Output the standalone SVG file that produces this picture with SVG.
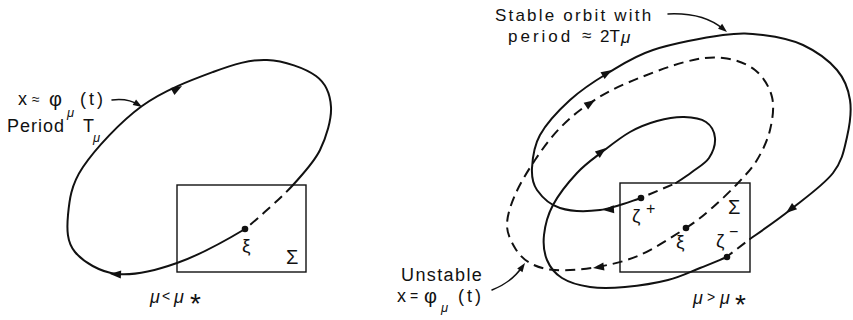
<svg xmlns="http://www.w3.org/2000/svg" xmlns:xlink="http://www.w3.org/1999/xlink" width="853" height="320" viewBox="0 0 853 320">
<style>
.t{font-family:"Liberation Sans",Arial,sans-serif;font-size:18px;fill:#111}
.i{font-style:italic}
.f13{font-size:13px}
.f14{font-size:14px}
.f16{font-size:16px}
.f17{font-size:17px}
.f19{font-size:19px}
.f20{font-size:20px}
.f28{font-size:28px}
.orb{fill:none;stroke:#111;stroke-width:2;stroke-linecap:round;stroke-linejoin:round}
.dash{stroke-dasharray:10 6;stroke-linecap:butt}
.lab{fill:none;stroke:#111;stroke-width:1.5;stroke-linecap:round}
.box{fill:none;stroke:#111;stroke-width:1.4}
.dot{fill:#111}
</style>
<defs>
<path id="ah" d="M0,0 L-11,-4 L-11,4 Z" fill="#111"/>
<path id="ahs" d="M0,0 L-9,-3.2 L-9,3.2 Z" fill="#111"/>
</defs>
<rect width="853" height="320" fill="#fff"/>

<g id="left-section">
  <g id="left-sigma">
    <rect class="box" x="177" y="185" width="129" height="87"/>
    <text class="t f20" x="286" y="264">Σ</text>
  </g>
  <g id="left-xi">
    <circle class="dot" cx="245" cy="229" r="3.3"/>
    <text class="t f19" x="242" y="252">ξ</text>
  </g>
  <g id="left-label">
    <text class="t" x="18" y="105">x</text>
    <text class="t f14" x="32" y="104">≈</text>
    <text class="t f20" x="49" y="106">φ</text>
    <text class="t i f13" x="67" y="117">μ</text>
    <text class="t" x="80" y="105" letter-spacing="3">(t)</text>
    <text class="t" x="7" y="132" letter-spacing="1">Period</text>
    <text class="t" x="83" y="132">T</text>
    <text class="t i f13" x="93" y="142">μ</text>
  </g>
  <g id="left-param">
    <text class="t i" x="150" y="303">μ</text>
    <text class="t f14" x="162" y="301">&lt;</text>
    <text class="t i" x="174" y="303">μ</text>
    <text class="t f28" x="190" y="313">*</text>
  </g>
</g>

<g id="right-section">
  <g id="right-sigma">
    <rect class="box" x="620" y="183" width="130" height="89"/>
    <text class="t f20" x="728" y="214">Σ</text>
  </g>
  <g id="right-zeta-plus">
    <circle class="dot" cx="641" cy="198" r="3.3"/>
    <text class="t f19" x="632" y="222">ζ</text>
    <text class="t f16" x="646" y="214">+</text>
  </g>
  <g id="right-xi">
    <circle class="dot" cx="686" cy="228" r="3.3"/>
    <text class="t f19" x="676" y="248">ξ</text>
  </g>
  <g id="right-zeta-minus">
    <circle class="dot" cx="727" cy="257" r="3.3"/>
    <text class="t f19" x="716" y="247">ζ</text>
    <text class="t f16" x="729" y="237">−</text>
  </g>
  <g id="stable-label">
    <text class="t f17" x="495" y="21" letter-spacing="2.2">Stable orbit with</text>
    <text class="t f17" x="508" y="42" letter-spacing="3">period</text>
    <text class="t f17" x="582" y="41">≈</text>
    <text class="t f17" x="600" y="42">2T</text>
    <text class="t i f17" x="621" y="43">μ</text>
  </g>
  <g id="unstable-label">
    <text class="t" x="401" y="281" letter-spacing="1.4">Unstable</text>
    <text class="t" x="397" y="302">x</text>
    <text class="t f14" x="410" y="301">=</text>
    <text class="t f20" x="424" y="303">φ</text>
    <text class="t i f13" x="441" y="312">μ</text>
    <text class="t" x="458" y="302" letter-spacing="3">(t)</text>
  </g>
  <g id="right-param">
    <text class="t i" x="693" y="304">μ</text>
    <text class="t f14" x="707" y="302">&gt;</text>
    <text class="t i" x="720" y="304">μ</text>
    <text class="t f28" x="735" y="314">*</text>
  </g>
</g>

<g id="connectors">
  <path class="orb" d="M245,229 C229.5,238.3 198.3,255.5 177,263 C155.7,270.5 134,275.8 117,274 C100,272.2 83.2,261.8 75,252 C66.8,242.2 66.7,229.2 68,215 C69.3,200.8 70.7,185.2 83,167 C95.3,148.8 120.3,121.8 142,106 C163.7,90.2 192.2,79.7 213,72 C233.8,64.3 249.8,59.3 267,60 C284.2,60.7 305.3,68.2 316,76 C326.7,83.8 330.3,94.7 331,107 C331.7,119.3 326.3,137 320,150 C313.7,163 301.3,175.5 293,185"/>
  <path class="orb dash" stroke-dasharray="9 5" d="M293,185 C285,194 261,216 245,229"/>
  <use xlink:href="#ah" transform="translate(182,86) rotate(-30)"/>
  <use xlink:href="#ah" transform="translate(110,274) rotate(183)"/>
  <path class="lab" d="M112,100 Q128,98 139,105"/>
  <use xlink:href="#ahs" transform="translate(142,107) rotate(32)"/>

  <path class="orb" d="M641,198 C634.2,200 613.5,208.3 600,210 C586.5,211.7 570.5,211.3 560,208 C549.5,204.7 541.7,196.7 537,190 C532.3,183.3 531.5,177.2 532,168 C532.5,158.8 533.7,146.3 540,135 C546.3,123.7 558.7,110.3 570,100 C581.3,89.7 594.2,81.3 608,73 C621.8,64.7 633.8,56.3 653,50 C672.2,43.7 704.7,37.5 723,35 C741.3,32.5 749.7,33.3 763,35 C776.3,36.7 790.7,39.2 803,45 C815.3,50.8 829.2,60.8 837,70 C844.8,79.2 848.3,88.8 850,100 C851.7,111.2 849.8,124.8 847,137 C844.2,149.2 842.5,160.8 833,173 C823.5,185.2 803.8,199 790,210 C776.2,221 756.7,234.2 750,239"/>
  <path class="orb dash" d="M750,239 L729,255" stroke-dasharray="5 5" stroke-dashoffset="-6"/>
  <path class="orb" d="M727,257 C722.5,258.8 709.8,264.2 700,268 C690.2,271.8 680.5,276.8 668,280 C655.5,283.2 638,285.8 625,287 C612,288.2 600.5,288.5 590,287 C579.5,285.5 569.2,282.5 562,278 C554.8,273.5 550,267.2 547,260 C544,252.8 543,244.2 544,235 C545,225.8 547.5,215.3 553,205 C558.5,194.7 568.8,181.8 577,173 C585.2,164.2 593.2,158.8 602,152 C610.8,145.2 620.8,137.2 630,132 C639.2,126.8 648,123.5 657,121 C666,118.5 675.8,116.8 684,117 C692.2,117.2 700.8,118.5 706,122 C711.2,125.5 714.5,132 715,138 C715.5,144 712.8,152.3 709,158 C705.2,163.7 697.5,167.8 692,172 C686.5,176.2 678.7,181.2 676,183"/>
  <path class="orb dash" d="M676,183 L643,197" stroke-dasharray="10 7" stroke-dashoffset="12"/>
  <use xlink:href="#ah" transform="translate(603,210) rotate(176)"/>
  <use xlink:href="#ah" transform="translate(612,70) rotate(-31)"/>
  <use xlink:href="#ah" transform="translate(786,213) rotate(141)"/>
  <use xlink:href="#ah" transform="translate(606,148) rotate(-38)"/>

  <path class="orb dash" stroke-width="1.8" d="M686,228 C698,220.2 703.3,215.5 712,208 C720.7,200.5 730.5,191 738,183 C745.5,175 751.7,168.8 757,160 C762.3,151.2 767.5,140.5 770,130 C772.5,119.5 774.5,107 772,97 C769.5,87 763.2,76.5 755,70 C746.8,63.5 734.7,59.3 723,58 C711.3,56.7 701,57.8 685,62 C669,66.2 642.8,76.2 627,83 C611.2,89.8 601.2,95.5 590,103 C578.8,110.5 569.2,118.5 560,128 C550.8,137.5 542.5,148.8 535,160 C527.5,171.2 519.7,184.2 515,195 C510.3,205.8 507,216.2 507,225 C507,233.8 511.2,241.7 515,248 C518.8,254.3 523.3,259.3 530,263 C536.7,266.7 543.8,269.3 555,270 C566.2,270.7 582.8,269.5 597,267 C611.2,264.5 625.2,261.5 640,255 C654.8,248.5 674,235.8 686,228"/>
  <use xlink:href="#ah" transform="translate(595,100) rotate(-34)"/>
  <use xlink:href="#ah" transform="translate(593,268) rotate(172)"/>

  <path class="lab" d="M668,14 C690,13 710,18 723,29"/>
  <use xlink:href="#ahs" transform="translate(727,32) rotate(40)"/>
  <path class="lab" d="M492,290 Q512,282 522,267"/>
  <use xlink:href="#ahs" transform="translate(525,263) rotate(-55)"/>
</g>
</svg>
